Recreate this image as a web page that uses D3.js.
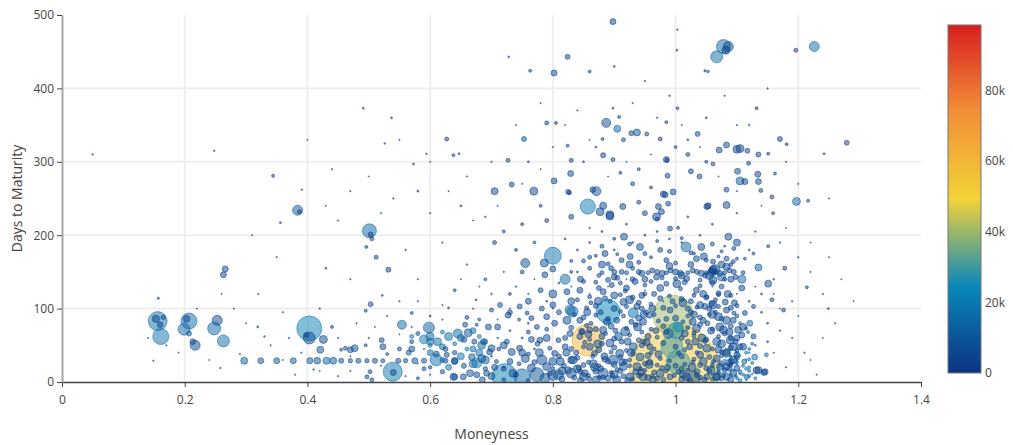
<!DOCTYPE html>
<html><head><meta charset="utf-8">
<script src="https://cdn.jsdelivr.net/npm/d3@7"></script>
<style>body{margin:0;background:#fff}svg{display:block;font-family:"Open Sans",sans-serif}</style>
</head><body><svg id="chart" width="1013" height="445"></svg>
<script>
const xTicks = [0, 0.2, 0.4, 0.6, 0.8, 1, 1.2, 1.4];
const yTicks = [0, 100, 200, 300, 400, 500];
const colorTicks = [0, 20000, 40000, 60000, 80000];
const colorMax = 98500;
const portland = ["rgb(12,51,131)", "rgb(10,136,186)", "rgb(242,211,56)", "rgb(242,143,56)", "rgb(217,30,30)"];

// each option contract: [moneyness, days to maturity, volume, open interest]
const headline = [
  [0.998,18,126000,55000],[0.996,91,25000,40000],[0.857,57,16000,60000],[0.89,96,9000,24000],
  [0.721,8,9770,22000],[0.403,73,9770,21000],[0.994,48,7560,30000],[1.004,27,9000,30000],
  [1.0,70,4000,28000],[0.539,14,5640,19000],[0.156,83,5600,17000],[0.80,172,4500,18000],
  [0.161,62,4000,18000],[0.207,83,4000,16000],[0.75,7,4000,16000],[0.857,239,3600,20000],
  [1.029,5,3060,8000],[0.501,206,3060,14000],[1.078,457,3060,14000],[1.067,443,2250,15000]
];

const deepWing = [
  [0.05,310,40,3000],[0.157,114,80,4000],[0.149,29,30,3000],[0.153,86,800,4000],[0.16,78,500,4000],[0.165,88,300,6000],
  [0.203,86,700,5000],[0.199,72,2250,14000],[0.207,66,400,8000],[0.217,50,1560,6000],[0.213,55,500,5000],
  [0.253,84,1560,6000],[0.248,73,2640,14000],[0.263,56,2250,15000],[0.258,19,30,3000],[0.266,154,560,3000],
  [0.263,146,560,3000],[0.248,315,40,3000],[0.297,29,770,12000],[0.324,29,560,9000],[0.35,29,560,9000],
  [0.377,29,560,8000],[0.404,29,600,10000],[0.416,29,700,10000],[0.431,29,800,12000],[0.319,75,60,3000],
  [0.344,281,140,3000],[0.356,217,60,3000],[0.391,262,40,3000],[0.384,234,1560,10000],[0.387,232,250,3000],
  [0.403,60,2250,6000],[0.398,64,400,4000],[0.426,58,1000,6000],[0.421,44,770,8000],[0.33,62,40,3000],
  [0.29,38,30,3000],[0.17,50,30,3000],[0.38,10,30,3000],[0.41,17,40,3000],[0.36,95,30,3000],[0.44,75,140,3000],
  [0.42,100,40,3000],[0.43,155,60,3000],[0.45,220,30,3000],[0.44,290,30,3000]
];

const midWing = [
  [0.442,29,770,10000],[0.455,29,400,6000],[0.47,29,300,5000],[0.483,29,400,6000],[0.497,29,300,5000],
  [0.51,29,400,6000],[0.523,29,250,5000],[0.548,29,400,6000],[0.56,29,300,5000],[0.575,29,560,8000],
  [0.59,29,400,6000],[0.61,30,2250,18000],[0.625,29,400,6000],[0.64,29,700,8000],[0.477,46,770,9000],
  [0.47,44,560,8000],[0.462,46,250,5000],[0.455,44,140,4000],[0.495,50,140,3000],[0.503,201,400,4000],
  [0.505,195,250,3000],[0.496,184,140,3000],[0.512,170,250,3000],[0.532,153,390,4000],[0.503,106,390,4000],
  [0.495,97,140,3000],[0.522,118,60,3000],[0.57,94,140,3000],[0.554,78,1270,14000],[0.598,74,1900,12000],
  [0.6,62,1000,16000],[0.59,58,1270,18000],[0.612,55,1000,16000],[0.58,66,250,4000],[0.54,13,560,4000],
  [0.502,14,250,3000],[0.497,7,250,3000],[0.505,3,250,3000],[0.521,57,390,4000],[0.523,48,560,5000],
  [0.53,38,140,3000],[0.55,45,250,4000],[0.565,40,400,8000],[0.57,55,250,4000],[0.63,62,1000,16000],
  [0.645,66,1270,14000],[0.662,67,1000,10000],[0.655,58,560,8000],[0.672,55,400,6000],[0.684,50,1000,14000],
  [0.697,41,560,6000],[0.676,26,1560,18000],[0.668,34,700,10000],[0.69,30,1000,12000],[0.665,12,770,9000],
  [0.64,7,560,8000],[0.62,14,300,5000],[0.6,20,200,4000],[0.58,5,140,3000],[0.61,38,560,8000],
  [0.625,45,400,6000],[0.64,40,300,5000],[0.655,22,400,6000],[0.69,18,300,5000],[0.60,90,60,3000],
  [0.58,110,30,3000],[0.64,125,140,3000],[0.63,101,60,3000],[0.66,88,250,4000],[0.675,112,60,3000],
  [0.69,140,140,3000],[0.70,98,250,4000],[0.695,75,560,6000],[0.68,85,140,3000],[0.657,78,390,5000],
  [0.676,78,140,3000],[0.687,55,560,5000],[0.70,46,770,6000],[0.684,32,1000,8000],[0.67,25,1000,16000],
  [0.64,28,560,6000],[0.627,37,390,5000],[0.638,7,770,7000],[0.654,7,560,6000],[0.692,12,560,6000],
  [0.676,10,560,6000]
];

const longDated = [
  [0.491,373,60,3000],[0.537,360,60,3000],[0.526,325,40,3000],[0.594,311,40,3000],[0.573,297,60,3000],
  [0.627,331,250,4000],[0.638,309,140,3000],[0.647,311,60,3000],[0.728,443,50,3000],[0.763,424,140,3000],
  [0.727,302,250,3000],[0.753,331,390,9000],[0.733,269,390,4000],[0.705,260,770,6000],[0.769,260,1000,6000],
  [0.58,260,60,3000],[0.65,240,60,3000],[0.69,225,40,3000],[0.60,230,30,3000],[0.72,205,140,3000],
  [0.705,190,250,3000],[0.74,180,140,3000],[0.54,250,30,3000],[0.47,260,30,3000],
  [0.898,491,560,4000],[0.824,443,390,4000],[0.802,421,560,4000],[0.86,423,140,3000],[0.887,353,1270,6000],
  [0.905,345,770,14000],[0.908,361,140,3000],[0.898,373,60,3000],[0.937,340,770,8000],[0.928,339,390,5000],
  [0.953,338,250,4000],[0.915,330,250,4000],[0.881,331,140,3000],[0.882,309,390,4000],[0.898,303,250,3000],
  [0.83,302,250,3000],[0.824,322,140,3000],[0.79,353,250,3000],[0.805,353,140,3000],[0.829,284,560,5000],
  [0.802,274,560,5000],[0.871,260,1270,7000],[0.865,262,500,5000],[0.825,259,390,4000],[0.98,256,560,4000],
  [0.987,281,390,4000],[0.986,302,250,3000],[0.975,331,250,3000],[1.086,457,1560,6000],[1.082,452,1000,5000],
  [1.226,457,1560,16000],[1.196,452,250,3000],[1.002,452,60,3000],[1.003,480,40,3000],[1.048,424,90,3000],
  [1.053,423,90,3000],[1.132,373,140,3000],[1.003,373,140,3000],[1.279,326,390,5000],[1.242,311,60,3000],
  [0.985,354,140,3000],[1.036,338,390,5000],[1.083,323,560,5000],[1.1,317,1000,6000],[1.105,318,1000,6000],
  [1.071,316,560,5000],[1.117,315,390,4000],[1.135,310,390,4000],[1.17,331,390,4000],[1.151,311,140,3000],
  [1.181,324,140,3000],[0.985,303,560,4000],[1.025,287,390,4000],[1.039,280,390,4000],[1.061,297,250,3000],
  [1.101,287,560,5000],[1.119,298,250,3000],[1.134,283,560,5000],[1.105,274,1000,12000],[1.113,273,560,5000],
  [1.135,273,560,5000],[1.162,284,140,3000],[1.083,262,390,4000],[1.139,261,250,3000],[0.996,259,560,4000],
  [1.157,252,250,3000],[0.882,240,770,5000],[0.893,228,1000,6000],[0.914,239,560,4000],[1.197,246,1000,14000],
  [1.216,247,140,3000],[1.083,241,770,5000],[1.053,240,560,4000],[1.159,230,140,3000],[0.94,245,250,3000],
  [0.95,230,390,4000],[0.97,222,250,3000],[0.96,265,140,3000],[0.93,270,250,3000],[0.91,285,140,3000],
  [0.85,300,60,3000],[0.87,320,60,3000],[0.94,290,140,3000],[1.02,330,60,3000],[1.05,360,60,3000],
  [1.12,350,40,3000],[1.15,400,30,3000],[0.95,410,30,3000],[0.9,430,60,3000],[0.78,380,30,3000],
  [0.76,300,60,3000],[0.99,390,40,3000],[1.0,320,140,3000],[1.02,310,250,3000],[1.05,300,140,3000],
  [0.79,220,250,3000],[0.78,240,140,3000],[0.83,225,390,4000],[0.75,215,140,3000],[0.877,232,1000,6000],
  [0.893,226,1000,6000],[0.827,258,250,3000],[0.983,255,560,4000],[0.972,239,560,4000],[0.969,225,1000,6000],
  [0.977,232,560,4000],[0.988,243,390,4000],[0.991,209,390,4000],[1.051,239,560,4000],[1.004,210,140,3000]
];

const midTerm = [
  [0.916,198,770,6000],[0.942,184,770,6000],[0.885,175,560,5000],[1.017,184,1560,14000],
  [1.042,184,770,6000],[0.926,171,560,5000],[0.912,166,390,4000],[0.975,180,390,4000],[0.985,166,390,4000],
  [1.061,164,390,4000],[1.083,168,390,4000],[1.034,168,560,5000],[1.086,198,770,7000],[1.1,190,770,6000],
  [1.151,185,140,3000],[0.786,162,1000,6000],[0.80,154,560,5000],[0.787,146,560,5000],[0.755,162,1270,7000],
  [0.82,140,1560,16000],[0.80,120,1000,6000],[0.832,96,1900,16000],[0.847,69,560,5000],[1.046,171,770,6000],
  [1.064,153,1560,7000],[1.059,150,1000,6000],[1.075,143,1000,14000],[1.108,140,1000,14000],[1.135,156,770,12000],
  [1.151,134,770,6000],[1.108,128,560,5000],[1.094,164,250,3000],[1.113,168,140,3000],[1.157,112,250,3000],
  [1.176,98,250,3000],[1.178,155,250,3000],[1.127,175,140,3000],[1.214,129,140,3000],[1.249,100,60,3000],
  [1.051,116,250,3000],[1.07,121,390,4000],[1.081,109,560,5000],[1.061,105,1000,6000],[1.048,103,560,5000],
  [1.083,157,770,6000],[1.061,153,1000,6000],[1.105,48,560,5000],[1.091,28,560,5000],[1.132,16,770,6000],
  [1.144,13,560,5000]
];

const coreCluster = [
  [0.714,105,390,4000],[0.727,91,560,5000],[0.746,103,390,4000],[0.758,94,250,3000],[0.765,87,390,4000],
  [0.782,100,390,4000],[0.79,89,560,5000],[0.774,75,390,4000],[0.803,80,560,5000],[0.733,41,770,6000],
  [0.746,46,560,5000],[0.755,32,1000,7000],[0.73,28,560,5000],[0.765,19,1000,6000],[0.782,30,1560,7000],
  [0.79,21,1000,6000],[0.803,39,560,5000],[0.812,28,1000,6000],[0.82,48,560,5000],[0.779,57,560,5000],
  [0.809,57,390,4000],[0.828,66,560,5000],[0.774,10,3060,8000],[0.787,5,1560,7000],[0.80,9,1560,7000],
  [0.809,10,1560,7000],[0.83,12,1560,7000],[0.83,30,770,6000],[0.823,123,560,5000],[0.844,125,560,5000],
  [0.85,137,250,3000],[0.882,123,560,5000],[0.896,132,390,4000],[0.92,128,560,5000],[0.934,137,560,5000],
  [0.969,143,560,5000],[1.002,134,1000,6000],[1.018,141,560,5000],[1.034,125,560,5000],[1.061,139,1000,6000],
  [0.945,118,560,5000],[0.915,109,770,6000],[0.937,103,560,5000],[1.04,105,770,6000],[1.059,107,560,5000],
  [1.07,89,1000,6000],[1.083,98,560,5000],[0.828,98,1560,16000],[0.823,84,1000,6000],[0.844,84,560,5000],
  [0.931,94,1560,16000],[0.947,82,770,6000],[0.958,91,560,5000],[1.072,75,1000,6000],[1.094,84,560,5000],
  [1.11,75,770,6000],[1.108,64,560,5000],[1.067,55,1000,7000],[1.051,46,1000,7000],[1.045,28,1000,7000],
  [1.067,32,770,6000],[1.083,41,770,6000],[1.083,21,770,6000],[1.094,12,770,6000],[1.067,7,770,6000],
  [1.051,7,560,5000],[0.942,34,1000,7000],[0.931,48,1000,7000],[0.937,21,1000,7000],[0.947,7,1000,7000],
  [0.926,7,1000,7000],[0.915,21,1000,7000],[0.909,39,1000,7000],[0.893,53,1000,7000],[0.898,30,1560,8000],
  [0.882,12,1560,7000],[0.866,25,1000,7000],[0.86,48,770,6000],[0.844,62,560,5000],[0.833,30,1000,7000],
  [0.825,16,770,6000],[0.85,7,1000,7000],[0.871,3,1000,7000],[0.904,3,1000,7000],[0.918,69,1270,7000],
  [0.882,71,770,6000],[0.86,71,560,5000],[0.904,84,560,5000],[0.991,98,560,5000],[1.0,87,560,6000],
  [0.988,66,1560,14000],[1.004,75,1560,24000],[0.955,62,560,5000],[0.958,48,560,5000],[1.034,73,1000,6000],
  [1.032,55,770,6000],[1.045,84,560,5000],[1.023,48,560,5000],[1.018,7,1000,6000],[0.975,12,1000,7000],
  [0.963,3,770,6000],[0.991,7,560,5000],[1.083,84,1000,6000],[1.078,71,1000,6000],[1.089,57,1000,7000],
  [1.094,48,1000,6000],[1.11,48,770,6000],[1.083,39,1000,6000],[1.094,30,1000,6000],[1.072,21,770,6000],
  [1.1,19,560,5000],[1.135,16,770,6000],[1.146,14,560,5000],[1.129,34,560,14000],[1.148,37,250,14000],
  [1.067,7,1000,6000],[1.083,7,770,6000],[1.116,7,390,14000],[1.102,71,770,6000],[1.113,94,390,4000],
  [1.127,103,250,3000],[1.121,80,560,14000],[1.127,62,390,5000]
];

const expiryRows = [
  [0.86,4,390,5000],[0.875,6,250,4000],[0.89,5,560,6000],[0.915,8,390,5000],[0.93,4,250,4000],[0.955,6,560,6000],
  [0.97,5,390,5000],[1.01,4,560,6000],[1.04,6,390,5000],[1.06,4,250,4000],[1.075,5,390,5000],[1.09,3,560,6000],
  [0.845,14,390,5000],[0.87,15,560,6000],[0.895,13,250,4000],[0.91,15,390,5000],[0.935,14,560,6000],[0.95,16,250,4000],
  [0.965,13,390,5000],[0.985,15,250,4000],[1.005,14,390,5000],[1.02,16,250,4000],[1.035,14,560,6000],[1.055,15,390,5000],
  [1.07,13,250,4000],[1.08,16,390,5000],[1.105,14,250,12000],[1.12,15,140,14000],
  [0.85,23,390,5000],[0.875,22,250,4000],[0.9,24,560,6000],[0.925,22,250,4000],[0.95,25,390,5000],[0.97,23,250,4000],
  [1.0,22,390,5000],[1.015,24,250,4000],[1.04,23,390,5000],[1.06,22,250,4000],[1.075,25,560,6000],[1.09,23,250,4000],
  [1.11,22,140,14000],[0.84,33,390,5000],[0.865,35,250,4000],[0.885,31,560,6000],[0.91,34,390,5000],[0.925,30,250,4000],
  [0.955,36,560,6000],[0.975,32,250,4000],[1.01,35,390,5000],[1.03,31,250,4000],[1.055,34,390,5000],[1.075,36,250,4000],
  [1.1,33,390,5000],[1.12,31,140,14000],[0.83,45,390,5000],[0.85,48,250,4000],[0.875,44,560,6000],[0.9,47,390,5000],
  [0.92,43,250,4000],[0.945,50,390,5000],[0.965,45,250,4000],[1.0,48,390,5000],[1.015,44,250,4000],[1.04,49,390,5000],
  [1.06,45,250,4000],[1.09,47,390,5000],[1.1,43,250,4000],[0.82,60,390,5000],[0.86,58,250,4000],[0.88,62,560,6000],
  [0.9,59,390,5000],[0.925,64,250,4000],[0.94,57,390,5000],[0.97,61,250,4000],[1.01,60,390,5000],[1.03,63,250,4000],
  [1.05,58,390,5000],[1.07,62,250,4000],[1.09,60,390,5000],[0.83,74,390,5000],[0.855,77,250,4000],[0.87,72,390,5000],
  [0.895,76,560,6000],[0.92,73,250,4000],[0.935,78,390,5000],[0.96,72,250,4000],[0.98,76,390,5000],[1.02,74,250,4000],
  [1.04,78,390,5000],[1.06,72,250,4000],[1.09,76,390,5000],[1.115,73,140,3000],[0.85,88,390,5000],[0.87,91,250,4000],
  [0.89,86,390,5000],[0.915,90,250,4000],[0.94,87,560,6000],[0.965,92,250,4000],[0.985,86,390,5000],[1.02,90,250,4000],
  [1.04,88,390,5000],[1.055,92,250,4000],[1.075,86,390,5000],[1.1,90,250,4000],[0.855,101,250,4000],[0.87,104,390,5000],
  [0.9,100,560,6000],[0.92,103,250,4000],[0.945,100,390,5000],[0.96,106,250,4000],[0.98,101,390,5000],[1.0,104,250,4000],
  [1.02,100,390,5000],[1.035,102,250,4000],[1.055,100,390,5000],[1.07,103,250,4000],[1.09,101,390,5000],[1.1,104,250,4000],
  [0.86,116,250,4000],[0.885,114,390,5000],[0.91,119,250,4000],[0.93,115,390,5000],[0.95,120,250,4000],[0.975,114,390,5000],
  [0.99,117,250,4000],[1.01,113,390,5000],[1.03,118,250,4000],[1.05,115,390,5000],[1.07,119,250,4000],[0.87,136,250,4000],
  [0.89,139,390,5000],[0.91,135,250,4000],[0.93,140,390,5000],[0.96,137,250,4000],[0.985,134,390,5000],[1.0,141,250,4000],
  [1.015,136,390,5000],[1.04,139,250,4000],[1.06,135,390,5000],[1.08,140,250,4000],[0.88,149,250,4000],[0.9,150,390,5000],
  [0.92,149,250,4000],[0.94,150,390,5000],[0.955,149,250,4000],[0.97,150,390,5000],[0.985,149,250,4000],[1.0,150,560,6000],
  [1.02,149,250,4000],[1.035,150,390,5000],[1.05,149,250,4000],[1.065,150,390,5000],[1.08,149,250,4000],[1.095,150,390,5000],
  [1.11,149,250,4000],[0.85,165,250,4000],[0.87,172,140,3000],[0.89,161,250,4000],[0.905,174,140,3000],[0.94,163,250,4000],
  [0.96,170,140,3000],[1.0,162,250,4000],[1.03,175,140,3000],[1.05,166,250,4000],[1.07,171,140,3000],[1.09,160,250,4000],
  [1.1,168,140,3000]
];

const denseCore = [
  [0.845,2,560,6000],[0.858,9,250,4000],[0.882,6,390,5000],[0.897,9,250,4000],[0.922,2,560,6000],[0.94,9,390,5000],
  [0.962,8,250,4000],[0.98,3,390,5000],[0.998,9,250,4000],[1.024,2,390,5000],[1.034,9,250,4000],[1.047,3,390,5000],
  [1.078,9,250,4000],[1.098,8,140,12000],[1.105,2,250,14000],[1.12,8,140,14000],[0.72,3,250,4000],[0.74,10,390,5000],
  [0.76,2,250,4000],[0.795,12,390,5000],[0.815,4,560,6000],[0.835,6,390,5000],[0.842,19,390,5000],[0.858,27,250,4000],
  [0.878,18,560,6000],[0.89,28,390,5000],[0.905,17,250,4000],[0.918,28,390,5000],[0.943,18,250,4000],[0.958,27,560,6000],
  [0.978,19,390,5000],[0.99,29,250,4000],[1.01,18,390,5000],[1.028,27,250,4000],[1.05,19,390,5000],[1.062,28,250,4000],
  [1.088,18,390,5000],[1.1,27,140,14000],[1.115,18,140,14000],[1.125,26,140,14000],[0.72,18,390,5000],[0.745,25,250,4000],
  [0.77,27,390,5000],[0.8,18,250,4000],[0.818,22,390,5000],[0.708,28,250,4000],[0.838,40,390,5000],[0.852,54,250,4000],
  [0.868,39,560,6000],[0.88,52,390,5000],[0.895,41,250,4000],[0.912,55,390,5000],[0.93,39,250,4000],[0.948,55,390,5000],
  [0.96,40,250,4000],[0.98,53,390,5000],[1.005,39,250,4000],[1.02,55,390,5000],[1.035,40,250,4000],[1.048,56,390,5000],
  [1.075,41,250,4000],[1.098,55,390,5000],[1.115,40,140,14000],[1.125,52,140,14000],[0.712,45,250,4000],[0.725,55,390,5000],
  [0.76,38,250,4000],[0.775,52,390,5000],[0.795,46,250,4000],[0.81,35,390,5000],[0.835,92,250,4000],[0.848,68,390,5000],
  [0.862,80,250,4000],[0.878,95,390,5000],[0.886,66,250,4000],[0.902,70,390,5000],[0.91,96,250,4000],[0.928,82,390,5000],
  [0.945,68,250,4000],[0.952,95,390,5000],[0.972,83,250,4000],[0.985,68,390,5000],[1.012,82,250,4000],[1.025,95,390,5000],
  [1.03,67,250,4000],[1.052,80,390,5000],[1.065,95,250,4000],[1.08,66,390,5000],[1.095,94,250,4000],[1.105,80,140,12000],
  [1.118,68,140,12000],[0.76,68,250,4000],[0.79,72,250,4000],[0.81,95,390,5000],[0.745,85,140,3000],[0.862,108,250,4000],
  [0.875,128,390,5000],[0.893,110,250,4000],[0.905,142,390,5000],[0.918,124,250,4000],[0.94,108,390,5000],[0.95,132,250,4000],
  [0.965,120,390,5000],[0.978,142,250,4000],[0.995,110,390,5000],[1.008,127,250,4000],[1.025,110,390,5000],[1.04,131,250,4000],
  [1.048,145,390,5000],[1.065,112,250,4000],[1.075,130,390,5000],[1.09,118,250,4000],[1.098,143,390,5000],[0.84,112,250,4000],
  [0.83,150,140,3000],[0.86,155,250,4000],[0.875,145,250,4000],[0.895,155,390,5000],[0.912,150,390,5000],[0.93,155,250,4000],
  [0.945,148,560,6000],[0.962,152,390,5000],[0.978,148,560,6000],[0.992,152,390,5000],[1.008,148,560,6000],[1.028,152,390,5000],
  [1.042,148,560,6000],[1.058,152,390,5000],[1.072,148,560,6000],[1.088,152,390,5000],[0.88,185,250,4000],[0.9,195,140,3000],
  [0.925,188,250,4000],[0.95,175,250,4000],[0.97,192,140,3000],[0.99,178,250,4000],[1.01,196,140,3000],[1.025,176,250,4000],
  [1.06,188,250,4000],[1.075,178,140,3000],[1.095,182,250,4000],[0.86,170,250,4000],[0.83,165,140,3000],[0.77,190,140,3000],
  [0.75,150,250,4000],[0.73,120,140,3000],[0.63,20,560,16000],[0.65,35,770,18000],[0.67,45,560,16000],[0.69,55,390,14000],
  [0.705,20,560,6000],[0.7,8,770,7000],[0.685,3,560,6000],[0.62,30,390,14000],[0.6,40,560,16000],[0.59,18,250,4000]
];

const coreFill = [
  [0.852,12,770,6000],[0.868,20,1000,7000],[0.884,35,770,6000],[0.9,10,1000,7000],[0.913,27,770,6000],[0.928,40,1000,7000],
  [0.944,13,770,6000],[0.957,24,1000,7000],[0.972,38,770,6000],[0.987,20,560,6000],[1.012,10,770,6000],[1.027,20,1000,7000],
  [1.04,37,770,6000],[1.058,16,1000,7000],[1.07,44,770,6000],[1.087,26,770,6000],[1.1,37,560,5000],[1.112,28,390,14000],
  [0.858,65,770,6000],[0.873,52,1000,7000],[0.888,82,770,6000],[0.907,62,1000,7000],[0.922,55,770,6000],[0.938,75,1000,7000],
  [0.953,54,770,6000],[0.968,70,560,6000],[1.015,66,770,6000],[1.028,82,770,6000],[1.043,60,1000,7000],[1.058,70,770,6000],
  [1.075,52,1000,7000],[1.088,68,770,6000],[1.1,60,560,5000],[0.856,95,770,6000],[0.874,110,1000,7000],[0.9,118,770,6000],
  [0.925,112,1000,7000],[0.948,92,770,6000],[0.962,100,770,6000],[0.975,128,770,6000],[1.012,108,1000,7000],[1.03,92,770,6000],
  [1.045,120,770,6000],[1.06,92,1000,7000],[1.085,120,770,6000],[1.096,108,560,5000],[0.88,160,770,6000],[0.9,143,560,5000],
  [0.925,160,770,6000],[0.95,140,560,5000],[0.99,158,770,6000],[1.01,145,770,6000],[1.025,160,560,5000],[1.055,145,1000,7000],
  [1.075,160,770,6000],[1.09,140,560,5000],[0.72,50,770,6000],[0.735,12,1000,7000],[0.75,40,770,6000],[0.765,58,560,5000],
  [0.778,40,1000,7000],[0.79,60,770,6000],[0.8,28,1000,7000],[0.815,15,1000,7000],[0.822,40,770,6000],[0.84,18,1000,7000],
  [0.71,75,560,5000],[0.73,95,390,4000],[0.76,110,560,5000],[0.78,125,390,4000],[0.8,105,560,5000],[0.83,110,770,6000],
  [0.845,140,560,5000],[0.62,48,560,14000],[0.6,55,770,16000],[0.65,60,770,16000],[0.57,45,560,5000],[0.68,40,770,16000],
  [0.67,70,560,14000],[1.065,3,60,20000],[1.075,11,60,20000],[1.085,3,60,20000],[1.095,16,60,20000],[1.105,11,60,20000],
  [1.115,3,60,20000],[1.125,11,60,20000],[1.07,20,60,20000],[1.1,24,60,20000],[1.115,30,60,20000],[1.08,30,60,20000],
  [1.105,36,60,20000],[1.12,40,60,20000],[1.09,44,60,20000]
];

const scatterDust = [
  [0.32,120,30,3000],[0.35,170,30,3000],[0.47,140,30,3000],[0.52,230,30,3000],[0.56,180,40,3000],[0.58,140,30,3000],
  [0.62,190,30,3000],[0.66,160,40,3000],[0.7,120,40,3000],[0.72,150,30,3000],[0.74,130,40,3000],[0.76,120,30,3000],
  [0.73,70,60,3000],[0.75,60,60,3000],[0.77,45,60,3000],[0.71,60,40,3000],[0.72,20,60,3000],[0.7,35,60,3000],
  [0.76,80,60,3000],[0.79,110,60,3000],[0.81,135,60,3000],[0.84,150,60,3000],[0.86,190,60,3000],[0.88,205,60,3000],
  [0.92,215,60,3000],[0.95,200,60,3000],[0.99,195,60,3000],[1.02,225,60,3000],[1.06,215,60,3000],[1.1,230,40,3000],
  [1.13,205,40,3000],[1.17,190,40,3000],[1.2,170,40,3000],[1.22,150,30,3000],[1.24,120,30,3000],[1.26,80,30,3000],
  [1.19,60,30,3000],[1.16,40,30,3000],[1.18,20,30,3000],[1.21,40,30,3000],[1.23,10,30,3000],[1.15,80,60,3000],
  [1.14,120,60,3000],[1.16,140,40,3000],[1.19,110,40,3000],[1.17,70,40,3000],[1.15,55,60,3000],[1.13,50,60,3000],
  [1.12,110,60,3000],[1.14,95,60,3000],[0.9,180,60,3000],[0.93,190,60,3000],[0.97,205,60,3000],[1.01,190,60,3000],
  [1.04,200,60,3000],[1.08,185,60,3000],[1.12,180,60,3000],[0.84,180,60,3000],[0.82,195,60,3000],[0.86,210,40,3000],
  [0.66,280,30,3000],[0.7,300,30,3000],[0.74,350,30,3000],[0.8,320,30,3000],[0.84,370,30,3000],[0.93,380,30,3000],
  [0.97,360,30,3000],[1.08,390,30,3000],[1.1,350,30,3000],[1.18,300,30,3000],[1.2,270,30,3000],[1.25,250,30,3000],
  [0.28,100,30,3000],[0.34,50,30,3000],[0.37,60,30,3000],[0.39,40,30,3000],[0.45,60,30,3000],[0.48,80,30,3000],
  [0.5,60,30,3000],[0.53,90,30,3000],[0.55,110,30,3000],[0.57,75,30,3000],[0.59,45,30,3000],[0.62,85,30,3000],
  [0.67,100,30,3000],[0.47,15,30,3000],[0.45,8,30,3000],[0.52,22,30,3000],[0.56,8,30,3000],[0.6,10,30,3000],
  [1.06,10,140,16000],[1.07,15,140,16000],[1.08,18,140,16000],[1.09,10,140,16000],[1.1,5,140,16000],[1.11,10,140,16000],
  [1.12,20,140,16000],[1.13,5,140,16000],[1.06,25,140,16000],[1.09,35,140,16000],[1.1,40,140,16000],[1.12,45,140,16000],
  [0.57,62,250,18000],[0.6,50,250,18000],[0.62,68,250,18000],[0.64,52,250,18000],[0.66,45,250,18000],[0.68,62,250,18000],
  [0.31,200,20,3000],[0.4,330,20,3000],[0.43,240,20,3000],[0.5,280,20,3000],[0.55,330,20,3000],[0.6,300,20,3000],
  [0.63,260,20,3000],[0.67,220,20,3000],[0.71,240,20,3000],[0.75,270,20,3000],[0.78,290,20,3000],[0.82,350,20,3000],
  [0.86,330,20,3000],[0.89,280,20,3000],[0.92,300,20,3000],[0.96,310,20,3000],[1.01,350,20,3000],[1.04,320,20,3000],
  [1.07,280,20,3000],[1.1,260,20,3000],[1.14,240,20,3000],[1.18,210,20,3000],[1.22,190,20,3000],[1.25,170,20,3000],
  [1.27,140,20,3000],[1.29,110,20,3000],[1.24,60,20,3000],[1.2,90,20,3000],[1.22,30,20,3000],[1.17,100,20,3000],
  [0.36,30,20,3000],[0.42,15,20,3000],[0.47,35,20,3000],[0.51,75,20,3000],[0.55,65,20,3000],[0.58,25,20,3000],
  [0.62,105,20,3000],[0.65,140,20,3000],[0.68,130,20,3000],[0.71,85,20,3000],[0.73,100,20,3000],[0.77,140,20,3000],
  [0.8,100,20,3000],[0.83,130,20,3000],[0.86,120,20,3000],[0.89,130,20,3000],[0.92,140,20,3000],[0.95,125,20,3000],
  [0.98,110,20,3000],[1.03,120,20,3000],[1.06,130,20,3000],[1.1,120,20,3000],[1.13,130,20,3000],[1.16,120,20,3000],
  [0.3,80,20,3000],[0.26,120,20,3000],[0.22,100,20,3000],[0.19,40,20,3000],[0.14,60,20,3000],[0.24,30,20,3000]
];

const svg = d3.select("#chart");
const plotLeft = 62, plotRight = 921, plotTop = 15, plotBottom = 382;

const x = d3.scaleLinear().domain([0, 1.4]).range([plotLeft, plotRight]);
const y = d3.scaleLinear().domain([0, 500]).range([plotBottom, plotTop]);
const r = d3.scaleSqrt().domain([0, 100000]).range([0, 40]);
const color = d3.scaleLinear()
  .domain(portland.map((c, i) => i / (portland.length - 1) * colorMax))
  .range(portland)
  .interpolate(d3.interpolateRgb)
  .clamp(true);

// grid
const grid = svg.append("g");
grid.selectAll(".gx").data(xTicks.filter(t => t > 0 && t < 1.4)).join("line")
  .attr("x1", d => x(d)).attr("x2", d => x(d)).attr("y1", plotTop).attr("y2", plotBottom)
  .attr("stroke", "#eeeeee").attr("stroke-width", 2);
grid.selectAll(".gy").data(yTicks.filter(t => t > 0 && t < 500)).join("line")
  .attr("x1", plotLeft).attr("x2", plotRight).attr("y1", d => y(d)).attr("y2", d => y(d))
  .attr("stroke", "#eeeeee").attr("stroke-width", 2);

// markers
const defs = svg.append("defs");
defs.append("clipPath").attr("id", "plotClip")
  .append("rect").attr("x", plotLeft).attr("y", plotTop).attr("width", plotRight - plotLeft).attr("height", plotBottom - plotTop);

const allPoints = [].concat(headline, deepWing, midWing, longDated, midTerm, coreCluster, expiryRows, denseCore, coreFill, scatterDust)
  .map(p => ({ m: p[0], d: p[1], vol: p[2], oi: p[3] }))
  .sort((a, b) => b.vol - a.vol);

svg.append("g").attr("clip-path", "url(#plotClip)")
  .selectAll("circle").data(allPoints).join("circle")
  .attr("cx", p => x(p.m)).attr("cy", p => y(p.d))
  .attr("r", p => Math.max(0.6, r(p.vol)))
  .attr("fill", p => color(p.oi)).attr("fill-opacity", 0.5)
  .attr("stroke", p => color(p.oi)).attr("stroke-opacity", 0.7).attr("stroke-width", 0.8);

// axes
const xAxis = svg.append("g").attr("transform", `translate(0,${plotBottom})`)
  .call(d3.axisBottom(x).tickValues(xTicks).tickFormat(d3.format("")).tickSize(5).tickSizeOuter(0));
xAxis.select(".domain").attr("stroke", "#444").attr("stroke-width", 1.5);
xAxis.selectAll(".tick line").attr("stroke", "#444");
xAxis.selectAll("text").attr("fill", "#444").attr("font-size", 12).attr("font-family", '"Open Sans", sans-serif').attr("dy", "1.2em");

const yAxis = svg.append("g").attr("transform", `translate(${plotLeft},0)`)
  .call(d3.axisLeft(y).tickValues(yTicks).tickSize(5).tickSizeOuter(0));
yAxis.select(".domain").attr("stroke", "#a8a8a8").attr("stroke-width", 2);
yAxis.selectAll(".tick line").attr("stroke", "#444");
yAxis.selectAll("text").attr("fill", "#444").attr("font-size", 12).attr("font-family", '"Open Sans", sans-serif').attr("x", -8);

svg.append("text").attr("x", (plotLeft + plotRight) / 2).attr("y", 439).attr("text-anchor", "middle")
  .attr("fill", "#444").attr("font-size", 14).text("Moneyness");
svg.append("text").attr("transform", `translate(22,${(plotTop + plotBottom) / 2}) rotate(-90)`).attr("text-anchor", "middle")
  .attr("fill", "#444").attr("font-size", 14).text("Days to Maturity");

// colorbar
const cbX = 948, cbW = 33, cbTop = 25, cbBottom = 373;
const grad = defs.append("linearGradient").attr("id", "cbGrad")
  .attr("x1", 0).attr("y1", 1).attr("x2", 0).attr("y2", 0);
grad.selectAll("stop").data(d3.range(0, 1.0001, 0.05)).join("stop")
  .attr("offset", t => t).attr("stop-color", t => color(t * colorMax));
svg.append("rect").attr("x", cbX).attr("y", cbTop).attr("width", cbW).attr("height", cbBottom - cbTop)
  .attr("fill", "url(#cbGrad)").attr("stroke", "#777").attr("stroke-width", 1);
const cbScale = d3.scaleLinear().domain([0, colorMax]).range([cbBottom, cbTop]);
svg.append("g").selectAll("text").data(colorTicks).join("text")
  .attr("x", cbX + cbW + 4).attr("y", v => cbScale(v)).attr("dy", "0.35em")
  .attr("fill", "#444").attr("font-size", 12)
  .text(v => v === 0 ? "0" : (v / 1000) + "k");
</script></body></html>
